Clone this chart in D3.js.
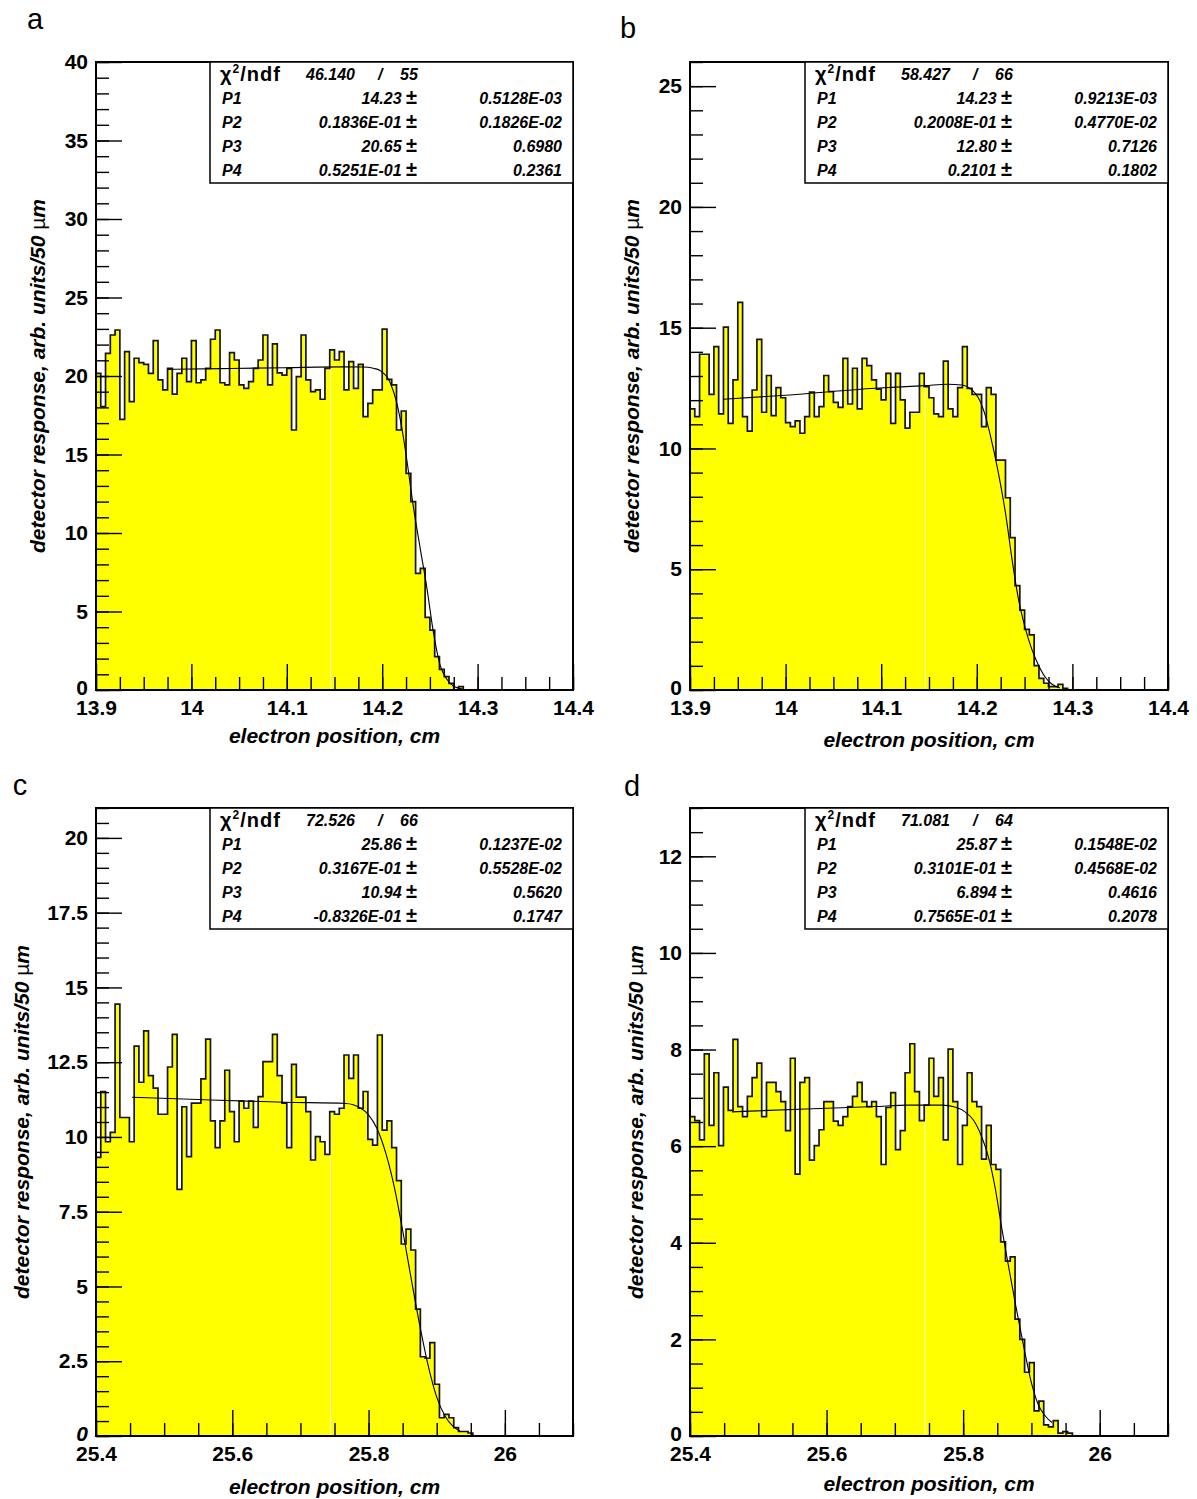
<!DOCTYPE html>
<html>
<head>
<meta charset="utf-8">
<script src="https://cdn.jsdelivr.net/npm/d3@7"></script>
<style>
  body { margin: 0; background: #fff; }
  text { font-family: "Liberation Sans", Arial, Helvetica, sans-serif; }
</style>
</head>
<body>
<div class="canvas"></div>
<script>
// bin contents, 100 bins per panel
const binsA = [
  20.17, 18.05, 21.44, 22.61, 22.93, 17.24, 21.55, 18.37, 21.13, 20.85,
  20.74, 20.17, 22.25, 19.75, 19.11, 20.49, 18.85, 20.17, 21.13, 19.64,
  22.25, 19.57, 19.75, 20.49, 22.34, 22.93, 19.57, 19.43, 21.49, 21.02,
  19.43, 19.21, 19.64, 20.49, 21.02, 22.61, 19.43, 22.04, 20.2, 20.06,
  20.49, 16.56, 19.96, 22.61, 19.75, 19.0, 19.11, 18.52, 20.49, 21.66,
  21.02, 21.55, 19.11, 20.91, 19.21, 20.74, 17.41, 18.26, 19.11, 19.11,
  22.99, 19.79, 19.43, 16.56, 17.77, 13.8, 12.0, 7.43, 7.75, 4.63,
  3.82, 2.12, 1.32, 0.85, 0.42, 0, 0.21, 0, 0, 0,
  0, 0, 0, 0, 0, 0, 0, 0, 0, 0,
  0, 0, 0, 0, 0, 0, 0, 0, 0, 0
];
const binsB = [
  11.64, 11.32, 13.9, 13.9, 12.24, 14.22, 11.43, 15.02, 11.04, 12.84,
  16.05, 11.32, 10.72, 12.42, 14.52, 11.5, 13.02, 11.36, 12.52, 12.1,
  11.07, 10.9, 11.14, 10.63, 11.32, 12.33, 11.32, 11.73, 13.02, 12.35,
  11.91, 11.7, 13.73, 11.84, 13.32, 11.64, 13.73, 13.43, 12.84, 12.46,
  12.01, 13.11, 11.04, 13.11, 12.01, 10.84, 11.5, 11.5, 13.11, 12.56,
  12.1, 11.43, 11.32, 13.62, 11.64, 11.32, 12.52, 14.22, 12.49, 12.24,
  12.24, 10.9, 12.52, 12.24, 9.52, 9.52, 7.96, 6.31, 4.32, 3.31,
  2.51, 2.28, 1.01, 0.48, 0.28, 0.14, 0.14, 0.23, 0.07, 0,
  0, 0, 0, 0, 0, 0, 0, 0, 0, 0,
  0, 0, 0, 0, 0, 0, 0, 0, 0, 0
];
const binsC = [
  9.32, 11.52, 9.84, 10.15, 14.44, 10.65, 10.65, 9.84, 13.04, 11.83,
  13.55, 12.05, 11.63, 10.76, 10.76, 12.34, 13.43, 8.25, 11.01, 9.34,
  11.13, 11.13, 11.94, 13.27, 10.54, 9.64, 10.54, 12.23, 10.85, 9.84,
  11.2, 10.96, 11.2, 10.32, 11.35, 12.52, 12.52, 13.43, 12.05, 11.13,
  9.64, 12.43, 11.33, 11.33, 10.85, 9.23, 10.01, 9.84, 9.42, 10.85,
  10.76, 10.96, 12.74, 11.96, 12.74, 10.96, 11.52, 9.92, 9.73, 13.41,
  10.23, 10.54, 9.64, 8.54, 6.42, 6.92, 6.22, 4.24, 2.65, 2.6,
  3.12, 1.73, 0.61, 0.72, 0.61, 0.28, 0.15, 0.15, 0.1, 0,
  0, 0, 0, 0, 0, 0, 0, 0, 0, 0,
  0, 0, 0, 0, 0, 0, 0, 0, 0, 0
];
const binsD = [
  6.61, 6.53, 6.13, 7.91, 6.43, 7.52, 6.01, 7.22, 6.74, 8.21,
  6.82, 6.61, 7.03, 7.42, 7.72, 6.61, 7.32, 7.32, 7.13, 6.92,
  6.32, 7.82, 5.42, 7.32, 7.42, 5.71, 6.01, 6.34, 6.92, 6.92,
  6.52, 6.43, 6.61, 6.82, 7.03, 7.32, 6.92, 6.82, 6.92, 6.61,
  5.62, 6.8, 7.11, 5.93, 6.32, 7.52, 8.12, 7.13, 6.53, 6.85,
  7.82, 7.03, 7.42, 6.13, 8.01, 6.92, 5.62, 6.43, 7.52, 6.92,
  6.82, 5.73, 6.43, 5.62, 5.52, 4.02, 3.62, 3.71, 2.42, 2.0,
  1.32, 1.52, 0.52, 0.72, 0.23, 0.19, 0.32, 0.06, 0.09, 0.06,
  0, 0, 0, 0, 0, 0, 0, 0, 0, 0,
  0, 0, 0, 0, 0, 0, 0, 0, 0, 0
];

// fit curves, points [x, y]
const fitA = [
  [13.975, 20.42], [14.03, 20.47], [14.098, 20.53], [14.16, 20.58], [14.18, 20.57],
  [14.1907, 20.49], [14.1977, 20.35], [14.2082, 19.6], [14.2152, 18.3], [14.2222, 16.1],
  [14.2257, 14.7], [14.2326, 11.7], [14.2396, 9.1], [14.2466, 6.6], [14.2536, 3.7],
  [14.2606, 1.6], [14.2676, 0.7], [14.2746, 0.25], [14.285, 0.05]
];
const fitB = [
  [13.935, 12.04], [14.0, 12.2], [14.0935, 12.49], [14.146, 12.6], [14.17, 12.66],
  [14.184, 12.63], [14.195, 12.42], [14.2016, 12.1], [14.2086, 11.4], [14.2138, 10.6],
  [14.2225, 9.0], [14.2305, 7.2], [14.2365, 5.5], [14.2434, 3.8], [14.2504, 2.6],
  [14.2574, 1.7], [14.2643, 1.05], [14.2713, 0.55], [14.2783, 0.25], [14.287, 0.08]
];
const fitC = [
  [25.453, 11.33], [25.55, 11.25], [25.677, 11.16], [25.767, 11.12], [25.787, 10.98],
  [25.7996, 10.75], [25.812, 10.3], [25.826, 9.4], [25.838, 8.3], [25.851, 6.75],
  [25.863, 5.2], [25.876, 3.6], [25.888, 2.3], [25.9, 1.3], [25.912, 0.68],
  [25.924, 0.32], [25.934, 0.17]
];
const fitD = [
  [25.4615, 6.71], [25.57, 6.77], [25.671, 6.82], [25.72, 6.85], [25.7686, 6.85],
  [25.788, 6.81], [25.8027, 6.71], [25.815, 6.54], [25.827, 6.2], [25.837, 5.78],
  [25.8466, 5.16], [25.856, 4.35], [25.866, 3.55], [25.877, 2.7], [25.888, 1.9],
  [25.9, 1.1], [25.91, 0.65], [25.92, 0.42], [25.93, 0.28]
];

// fit statistics boxes
const chiA = ['46.140', '55'];
const chiB = ['58.427', '66'];
const chiC = ['72.526', '66'];
const chiD = ['71.081', '64'];
const parsA = [['P1', '14.23', '0.5128E-03'], ['P2', '0.1836E-01', '0.1826E-02'], ['P3', '20.65', '0.6980'], ['P4', '0.5251E-01', '0.2361']];
const parsB = [['P1', '14.23', '0.9213E-03'], ['P2', '0.2008E-01', '0.4770E-02'], ['P3', '12.80', '0.7126'], ['P4', '0.2101', '0.1802']];
const parsC = [['P1', '25.86', '0.1237E-02'], ['P2', '0.3167E-01', '0.5528E-02'], ['P3', '10.94', '0.5620'], ['P4', '-0.8326E-01', '0.1747']];
const parsD = [['P1', '25.87', '0.1548E-02'], ['P2', '0.3101E-01', '0.4568E-02'], ['P3', '6.894', '0.4616'], ['P4', '0.7565E-01', '0.2078']];

// tick labels
const xTicksAB = [13.9, 14.0, 14.1, 14.2, 14.3, 14.4];
const xLabelsAB = ['13.9', '14', '14.1', '14.2', '14.3', '14.4'];
const xTicksCD = [25.4, 25.6, 25.8, 26.0];
const xLabelsCD = ['25.4', '25.6', '25.8', '26'];
const yTicksA = [0, 5, 10, 15, 20, 25, 30, 35, 40];
const yTicksB = [0, 5, 10, 15, 20, 25];
const yTicksC = [0, 2.5, 5, 7.5, 10, 12.5, 15, 17.5, 20];
const yTicksD = [0, 2, 4, 6, 8, 10, 12];

const svg = d3.select('.canvas')
  .append('svg')
  .attr('width', 1197)
  .attr('height', 1499)
  .style('background', '#fff');

const panels = [
  { name: 'a', bins: binsA, fit: fitA, chi: chiA, pars: parsA, x0: 13.9, binW: 0.005, xDomain: [13.9, 14.4],
    xTicks: xTicksAB, xLabels: xLabelsAB, xMinor: 0.025, yMax: 40, yTicks: yTicksA, yMinor: 1,
    left: 96, top: 62, w: 477, h: 628, titleX: -58, xTitleY: 53, nameX: 35, nameY: 29, seam: 14.146 },
  { name: 'b', bins: binsB, fit: fitB, chi: chiB, pars: parsB, x0: 13.9, binW: 0.005, xDomain: [13.9, 14.4],
    xTicks: xTicksAB, xLabels: xLabelsAB, xMinor: 0.025, yMax: 26, yTicks: yTicksB, yMinor: 1,
    left: 690, top: 62, w: 478, h: 628, titleX: -58, xTitleY: 57, nameX: 628, nameY: 38, seam: 14.146 },
  { name: 'c', bins: binsC, fit: fitC, chi: chiC, pars: parsC, x0: 25.4, binW: 0.007, xDomain: [25.4, 26.1],
    xTicks: xTicksCD, xLabels: xLabelsCD, xMinor: 0.05, yMax: 21, yTicks: yTicksC, yMinor: 0.5,
    left: 96, top: 808, w: 477, h: 628, titleX: -74, xTitleY: 58, nameX: 20, nameY: 795, seam: 25.744, zeroItalic: true },
  { name: 'd', bins: binsD, fit: fitD, chi: chiD, pars: parsD, x0: 25.4, binW: 0.007, xDomain: [25.4, 26.1],
    xTicks: xTicksCD, xLabels: xLabelsCD, xMinor: 0.05, yMax: 13, yTicks: yTicksD, yMinor: 0.5,
    left: 690, top: 808, w: 478, h: 628, titleX: -54, xTitleY: 55, nameX: 632, nameY: 796, seam: 25.744 }
];

const drawPanel = p => {
  const g = svg.append('g').attr('transform', `translate(${p.left}, ${p.top})`);

  const x = d3.scaleLinear().domain(p.xDomain).range([0, p.w]);
  const y = d3.scaleLinear().domain([0, p.yMax]).range([p.h, 0]);

  const n = p.bins.length;
  const pts = p.bins.map((v, i) => [p.x0 + i * p.binW, v]);
  pts.push([p.x0 + n * p.binW, p.bins[n - 1]]);

  const area = d3.area()
    .curve(d3.curveStepAfter)
    .x(d => x(d[0]))
    .y0(y(0))
    .y1(d => y(d[1]));

  g.append('clipPath').attr('id', 'fill-' + p.name)
    .append('path').attr('d', area(pts));

  g.append('path')
    .attr('d', area(pts))
    .attr('fill', '#ffff00');

  // faint seam in the fill, as in the original print
  g.append('line')
    .attr('x1', x(p.seam)).attr('x2', x(p.seam))
    .attr('y1', 0).attr('y2', p.h)
    .attr('stroke', '#fffbd0')
    .attr('stroke-width', 1)
    .attr('clip-path', `url(#fill-${p.name})`);

  const step = d3.line()
    .curve(d3.curveStepAfter)
    .x(d => x(d[0]))
    .y(d => y(d[1]));

  const outline = [[p.x0, 0], ...pts, [p.x0 + n * p.binW, 0]];
  g.append('path')
    .attr('d', step(outline))
    .attr('fill', 'none')
    .attr('stroke', '#151515')
    .attr('stroke-width', 1.7);

  // fit curve
  const fitLine = d3.line()
    .curve(d3.curveMonotoneX)
    .x(d => x(d[0]))
    .y(d => y(d[1]));

  g.append('path')
    .attr('d', fitLine(p.fit))
    .attr('fill', 'none')
    .attr('stroke', '#000')
    .attr('stroke-width', 1.1);

  // axes: minor then major ticks, pointing inward
  const yMinor = d3.range(0, p.yMax + 1e-9, p.yMinor);
  const xMinor = d3.range(p.xDomain[0], p.xDomain[1] + 1e-9, p.xMinor);

  const yMinorG = g.append('g').call(d3.axisLeft(y).tickValues(yMinor).tickSize(-13).tickFormat(''));
  const yMajorG = g.append('g').call(d3.axisLeft(y).tickValues(p.yTicks).tickSize(-26).tickPadding(8)
    .tickFormat(d => d3.format('~g')(d)));
  const xMinorG = g.append('g').attr('transform', `translate(0, ${p.h})`)
    .call(d3.axisBottom(x).tickValues(xMinor).tickSize(-13).tickFormat(''));
  const xMajorG = g.append('g').attr('transform', `translate(0, ${p.h})`)
    .call(d3.axisBottom(x).tickValues(p.xTicks).tickSize(-26).tickPadding(10)
      .tickFormat((d, i) => p.xLabels[i]));

  [yMinorG, yMajorG, xMinorG, xMajorG].forEach(a => {
    a.select('.domain').remove();
    a.selectAll('line').attr('stroke', '#000').attr('stroke-width', 1.4);
    a.selectAll('text')
      .attr('fill', '#000')
      .attr('font-size', 21)
      .attr('font-weight', 'bold')
      .attr('font-family', '"Liberation Sans", Arial, Helvetica, sans-serif');
  });
  // the origin label sits a touch higher than the rest
  yMajorG.selectAll('text').filter(d => d === 0).attr('dy', '0.2em');
  if (p.zeroItalic) {
    yMajorG.selectAll('text').filter(d => d === 0).attr('font-style', 'italic');
  }

  // frame
  g.append('rect')
    .attr('width', p.w)
    .attr('height', p.h)
    .attr('fill', 'none')
    .attr('stroke', '#000')
    .attr('stroke-width', 2);

  // stats box
  const bx = p.w - 363;
  const box = g.append('g').attr('transform', `translate(${bx}, 0)`);
  box.append('rect')
    .attr('width', 363)
    .attr('height', 121)
    .attr('fill', '#fff')
    .attr('stroke', '#000')
    .attr('stroke-width', 1.5);

  const chiText = box.append('text')
    .attr('x', 10).attr('y', 19)
    .attr('font-size', 20).attr('font-weight', 'bold')
    .attr('letter-spacing', 1);
  chiText.append('tspan').text('χ');
  chiText.append('tspan').attr('font-size', 12).attr('dy', -8).text('2');
  chiText.append('tspan').attr('dy', 8).text('/ndf');

  const italic = sel => sel
    .attr('font-size', 16).attr('font-weight', 'bold').attr('font-style', 'italic');

  box.append('text').attr('x', 96).attr('y', 18).call(italic).text(p.chi[0]);
  box.append('text').attr('x', 168).attr('y', 18).call(italic).text('/');
  box.append('text').attr('x', 190).attr('y', 18).call(italic).text(p.chi[1]);

  const rows = box.selectAll('g.row')
    .data(p.pars)
    .enter()
    .append('g')
    .attr('class', 'row')
    .attr('transform', (d, i) => `translate(0, ${42 + i * 24})`)
    .attr('font-size', 16)
    .attr('font-weight', 'bold')
    .attr('font-style', 'italic');

  rows.append('text').attr('x', 12).text(d => d[0]);
  const val = rows.append('text').attr('x', 207).attr('text-anchor', 'end');
  val.append('tspan').text(d => d[1] + ' ');
  val.append('tspan').attr('font-style', 'normal').attr('font-size', 20).text('±');
  rows.append('text').attr('x', 352).attr('text-anchor', 'end').text(d => d[2]);

  // axis titles
  const yTitle = g.append('text')
    .attr('transform', `translate(${p.titleX}, ${p.h / 2}) rotate(-90)`)
    .attr('text-anchor', 'middle')
    .attr('dy', '0.35em')
    .attr('font-size', 21)
    .attr('font-weight', 'bold')
    .attr('font-style', 'italic');
  yTitle.append('tspan').text('detector response, arb. units/50 ');
  yTitle.append('tspan').attr('font-style', 'normal').attr('font-weight', 'normal').text('µ');
  yTitle.append('tspan').text('m');

  g.append('text')
    .attr('x', p.w / 2)
    .attr('y', p.h + p.xTitleY)
    .attr('text-anchor', 'middle')
    .attr('font-size', 21)
    .attr('font-weight', 'bold')
    .attr('font-style', 'italic')
    .text('electron position, cm');

  // panel letter
  svg.append('text')
    .attr('x', p.nameX)
    .attr('y', p.nameY)
    .attr('text-anchor', 'middle')
    .attr('font-size', 29)
    .text(p.name);
};

panels.forEach(drawPanel);
</script>
</body>
</html>
